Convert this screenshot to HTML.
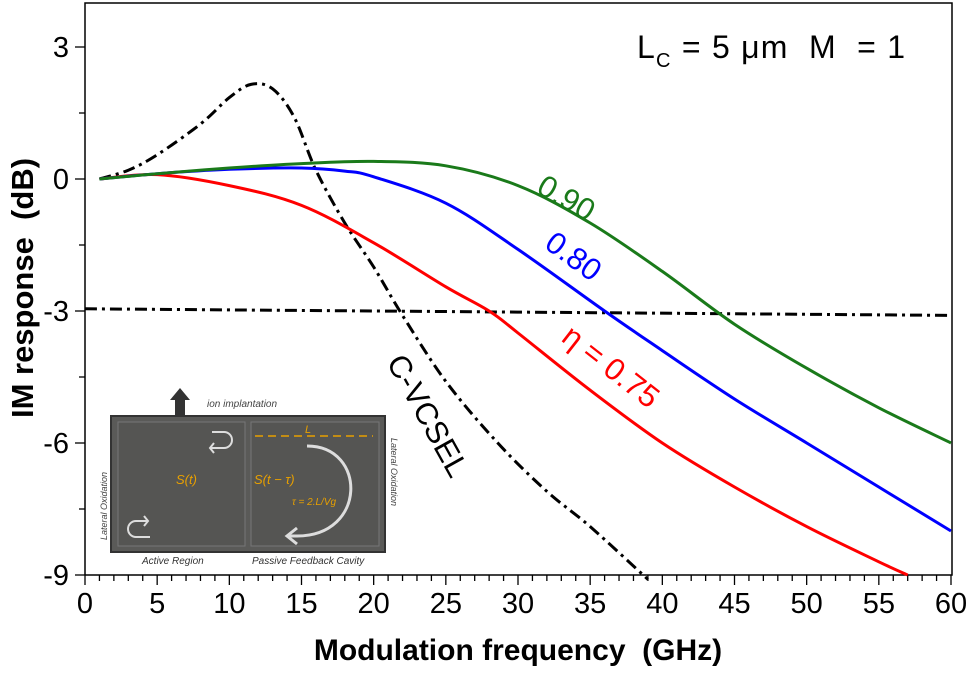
<!DOCTYPE html>
<html><head><meta charset="utf-8"><style>
body{margin:0;background:#fff;}
svg text{font-family:"Liberation Sans",Arial,sans-serif;}
</style></head><body>
<svg id="chart" width="972" height="669" viewBox="0 0 972 669" xmlns="http://www.w3.org/2000/svg">
<rect x="0" y="0" width="972" height="669" fill="#fff"/>
<g id="axes"></g>
<g id="series"></g>
<g>
  <polygon points="175,415 175,400 170,400 180,388 190,400 185,400 185,415" fill="#333"/>
  <text x="207" y="407" font-size="10" font-style="italic" font-family="Liberation Serif,serif" fill="#444">ion implantation</text>
  <rect x="111" y="416" width="274" height="136" fill="#5a5a58" stroke="#333" stroke-width="2"/>
  <rect x="118" y="422" width="127" height="124" fill="#555553" stroke="#777" stroke-width="1"/>
  <rect x="251" y="422" width="128" height="124" fill="#555553" stroke="#777" stroke-width="1"/>
  <path d="M212,432 h12 a8,8 0 0 1 0,16 h-14 m4,-5 l-4,5 l4,5" fill="none" stroke="#ddd" stroke-width="2"/>
  <path d="M150,537 h-14 a8,8 0 0 1 0,-16 h12 m-4,-5 l4,5 l-4,5" fill="none" stroke="#ddd" stroke-width="2"/>
  <path d="M307,446 c60,0 60,90 -10,90 h-8 m8,-8 l-10,8 l10,8" fill="none" stroke="#ddd" stroke-width="3"/>
  <line x1="255" y1="436" x2="373" y2="436" stroke="#e8a000" stroke-width="1.5" stroke-dasharray="8,5"/>
  <text x="305" y="433" font-size="11" font-style="italic" fill="#e8a000" font-family="Liberation Serif,serif">L</text>
  <text x="176" y="484" font-size="13" font-style="italic" fill="#e8a000" font-family="Liberation Serif,serif">S(t)</text>
  <text x="254" y="484" font-size="13" font-style="italic" fill="#e8a000" font-family="Liberation Serif,serif">S(t − τ)</text>
  <text x="292" y="505" font-size="10" font-style="italic" fill="#e8a000" font-family="Liberation Serif,serif">τ = 2.L/Vg</text>
  <text transform="translate(107,540) rotate(-90)" font-size="9" font-style="italic" fill="#444" font-family="Liberation Serif,serif">Lateral Oxidation</text>
  <text transform="translate(391,438) rotate(90)" font-size="9" font-style="italic" fill="#444" font-family="Liberation Serif,serif">Lateral Oxidation</text>
  <text x="142" y="564" font-size="10" font-style="italic" fill="#333" font-family="Liberation Serif,serif">Active Region</text>
  <text x="252" y="564" font-size="10" font-style="italic" fill="#333" font-family="Liberation Serif,serif">Passive Feedback Cavity</text>
</g>
<g id="labels">
  <text x="637" y="58" font-size="32" xml:space="preserve" textLength="268" lengthAdjust="spacing">L<tspan font-size="20" dy="9">C</tspan><tspan dy="-9"> = 5 μm  M  = 1</tspan></text>
  <text transform="translate(535,192) rotate(30)" font-size="31" fill="#1a7a1a">0.90</text>
  <text transform="translate(543,247) rotate(36)" font-size="31" fill="#0000ff">0.80</text>
  <text transform="translate(560,340) rotate(38)" font-size="31" fill="#ff0000">η = 0.75</text>
  <text transform="translate(386,362) rotate(61)" font-size="31" fill="#000">C-VCSEL</text>
  <text transform="translate(33,288) rotate(-90)" text-anchor="middle" font-size="31" font-weight="bold" xml:space="preserve">IM response  (dB)</text>
  <text x="518" y="660" text-anchor="middle" font-size="30" font-weight="bold" xml:space="preserve">Modulation frequency  (GHz)</text>
</g>
</svg>
<script>
const xTicks=[0,5,10,15,20,25,30,35,40,45,50,55,60];
const yTicks=[3,0,-3,-6,-9];
const freqGreen=[1,5,10,15,20,25,30,35,40,45,50,55,60];
const valGreen=[0,0.12,0.25,0.35,0.4,0.3,-0.15,-1.0,-2.1,-3.3,-4.3,-5.2,-6.0];
const freqBlue=[1,5,10,15,18,20,25,30,36,40,45,50,55,60];
const valBlue=[0,0.12,0.22,0.25,0.18,0.05,-0.55,-1.6,-3.0,-3.9,-5.0,-6.0,-7.0,-8.0];
const freqRed=[1,5,10,15,20,25,28,30,35,40,45,50,55,57];
const valRed=[0,0.1,-0.15,-0.6,-1.45,-2.45,-3.0,-3.5,-4.8,-6.0,-7.0,-7.9,-8.7,-9.0];
const freqC=[1,3,5,8,10,11.5,13,14.5,16,18,20,22,25,28.6,32,35,39];
const valC=[0,0.2,0.55,1.25,1.85,2.15,2.05,1.4,0.2,-1.0,-2.0,-3.1,-4.6,-6.0,-7.1,-7.9,-9.1];
const freqRef=[0,60];
const valRef=[-2.95,-3.1];
const X=f=>85+f*(951-85)/60;
const Y=v=>179-v*44;
const NS='http://www.w3.org/2000/svg';
function mk(tag,attrs,parent){const e=document.createElementNS(NS,tag);for(const k in attrs)e.setAttribute(k,attrs[k]);parent.appendChild(e);return e;}
const ax=document.getElementById('axes');
let e;
e=mk('path',{d:`M85,575 V3 H952 V575 H85`,fill:'none',stroke:'#000','stroke-width':1.5},ax);


for(let f=0;f<=60;f++){
  const major=f%5===0;
  e=mk('line',{x1:X(f),x2:X(f),y1:575,y2:575+(major?10:6),stroke:'#000','stroke-width':1.3},ax);
  
  
}
xTicks.forEach(t=>{
  e=mk('text',{x:X(t),y:613,'text-anchor':'middle','font-size':29},ax);e.textContent=t;
  
  
});
for(let v=3;v>=-9;v-=1.5){
  e=mk('line',{x1:85-(Number.isInteger(v/3)?10:6),x2:85,y1:Y(v),y2:Y(v),stroke:'#000','stroke-width':1.3},ax);
  
  
}
yTicks.forEach(t=>{
  e=mk('text',{x:69,y:Y(t)+10,'text-anchor':'end','font-size':29},ax);e.textContent=(t<0?'-'+(-t):t);
  
  
});
const se=document.getElementById('series');
function line(fs,vs,color,dash,name){
  const pts=fs.map((f,i)=>[X(f),Y(vs[i])]);
  let d='M'+pts[0][0].toFixed(1)+','+pts[0][1].toFixed(1);
  for(let i=0;i<pts.length-1;i++){
    const p0=pts[Math.max(0,i-1)],p1=pts[i],p2=pts[i+1],p3=pts[Math.min(pts.length-1,i+2)];
    const c1=[p1[0]+(p2[0]-p0[0])/6,p1[1]+(p2[1]-p0[1])/6];
    const c2=[p2[0]-(p3[0]-p1[0])/6,p2[1]-(p3[1]-p1[1])/6];
    d+=' C'+c1.map(v=>v.toFixed(1))+' '+c2.map(v=>v.toFixed(1))+' '+p2.map(v=>v.toFixed(1));
  }
  const p=mk('path',{d:d,fill:'none',stroke:color,'stroke-width':3,'stroke-linejoin':'round'},se);
  if(dash)p.setAttribute('stroke-dasharray',dash);
  
  
}
line(freqRef,valRef,'#000','12,5,3,5','minus-3db-line');
line(freqC,valC,'#000','12,5,3,5','c-vcsel-curve');
line(freqRed,valRed,'#ff0000',null,'eta-075-curve');
line(freqBlue,valBlue,'#0000ff',null,'eta-080-curve');
line(freqGreen,valGreen,'#1a7a1a',null,'eta-090-curve');
</script>
</body></html>
